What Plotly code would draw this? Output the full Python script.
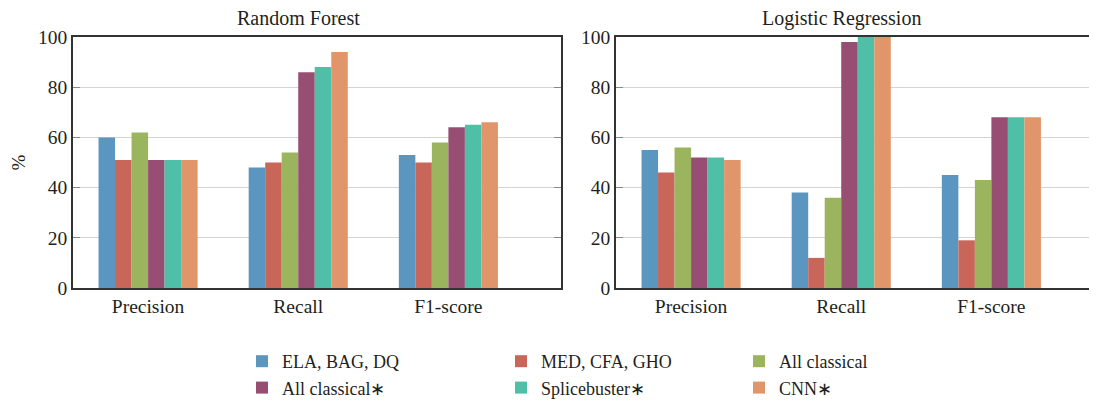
import plotly.graph_objects as go

categories = ["Precision", "Recall", "F1-score"]
series_names = ["ELA, BAG, DQ", "MED, CFA, GHO", "All classical",
                "All classical∗", "Splicebuster∗", "CNN∗"]
colors = ["#5b96c0", "#c9665a", "#9bb55e", "#984e72", "#50bfa8", "#e0966a"]

# Random Forest values (%), per series: [Precision, Recall, F1-score]
rf_ela = [60, 48, 53]
rf_med = [51, 50, 50]
rf_allc = [62, 54, 58]
rf_allc_star = [51, 86, 64]
rf_splice = [51, 88, 65]
rf_cnn = [51, 94, 66]

# Logistic Regression values (%)
lr_ela = [55, 38, 45]
lr_med = [46, 12, 19]
lr_allc = [56, 36, 43]
lr_allc_star = [52, 98, 68]
lr_splice = [52, 100, 68]
lr_cnn = [51, 100, 68]

rf_values = [rf_ela, rf_med, rf_allc, rf_allc_star, rf_splice, rf_cnn]
lr_values = [lr_ela, lr_med, lr_allc, lr_allc_star, lr_splice, lr_cnn]

y_ticks = [0, 20, 40, 60, 80, 100]

FONT = "Liberation Serif"
TXT = "#231f20"

legend_ids = ["legend", "legend2", "legend3"]

fig = go.Figure()
xpos = list(range(len(categories)))
for i, name in enumerate(series_names):
    fig.add_trace(go.Bar(x=xpos, y=rf_values[i], name=name, marker_color=colors[i],
                         marker_line_width=0, showlegend=True,
                         legend=legend_ids[i % 3], legendgroup=name,
                         xaxis="x", yaxis="y"))
for i, name in enumerate(series_names):
    fig.add_trace(go.Bar(x=xpos, y=lr_values[i], name=name, marker_color=colors[i],
                         marker_line_width=0, showlegend=False,
                         legend=legend_ids[i % 3], legendgroup=name,
                         xaxis="x2", yaxis="y2"))

# page body adds an 8px offset; work in figure coordinates
OFF = 8
W, H = 1097 - OFF, 408 - OFF
ml, mr, mt = 73 - OFF, 0, 37 - OFF
plot_bottom = 288 - OFF
mb = H - plot_bottom
pw = W - ml - mr
ph = H - mt - mb
left_end = 561 - OFF
right_start = 616 - OFF
d1 = [0, (left_end - ml) / pw]
d2 = [(right_start - ml) / pw, 1]
cat_px = (left_end - ml) / 3.25
r2 = -0.5 + (W - right_start) / cat_px

xcommon = dict(tickvals=xpos, ticktext=categories, showline=True, linecolor="#333",
               linewidth=1.5, mirror=True, ticks="", showgrid=False, zeroline=False,
               tickfont=dict(family=FONT, size=19.5, color=TXT))
ycommon = dict(range=[0, 100], tickvals=y_ticks, showline=True, linecolor="#333",
               linewidth=1.5, mirror="ticks", ticks="inside", ticklen=7, tickcolor="#888",
               tickwidth=1, showgrid=True, gridcolor="#d4d4d4", gridwidth=1,
               zeroline=False, tickfont=dict(family=FONT, size=19.5, color=TXT))

legend_top_px = 361 - OFF - 18
text_starts = [282, 541, 779]
legend_base = dict(orientation="v", xanchor="left", yanchor="top",
                   y=-(legend_top_px - plot_bottom) / ph,
                   font=dict(family=FONT, size=18, color=TXT), traceorder="normal",
                   itemwidth=30, tracegroupgap=11, bgcolor="rgba(0,0,0,0)")
legends = {}
for k, lid in enumerate(legend_ids):
    legends[lid] = dict(x=(text_starts[k] - OFF - 40 - ml) / pw, **legend_base)

title_y = 1 + (mt - (18 - OFF)) / ph

fig.update_layout(
    width=W, height=H,
    margin=dict(l=ml, r=mr, t=mt, b=mb, autoexpand=False),
    plot_bgcolor="white", paper_bgcolor="white",
    barmode="group", bargap=0.34, bargroupgap=0,
    font=dict(family=FONT, color=TXT),
    xaxis=dict(domain=d1, range=[-0.5, 2.75], anchor="y", **xcommon),
    xaxis2=dict(domain=d2, range=[-0.5, r2], anchor="y2", **xcommon),
    yaxis=dict(anchor="x", title=dict(text="%", standoff=14,
                                      font=dict(family=FONT, size=19, color=TXT)),
               **ycommon),
    yaxis2=dict(anchor="x2", **ycommon),
    annotations=[
        dict(text="Random Forest", x=1, xref="x", y=title_y,
             yref="paper", showarrow=False, xanchor="center", yanchor="middle",
             font=dict(family=FONT, size=20, color=TXT)),
        dict(text="Logistic Regression", x=1, xref="x2", y=title_y,
             yref="paper", showarrow=False, xanchor="center", yanchor="middle",
             font=dict(family=FONT, size=20, color=TXT)),
    ],
    **legends,
)

fig.write_html("out.html")
